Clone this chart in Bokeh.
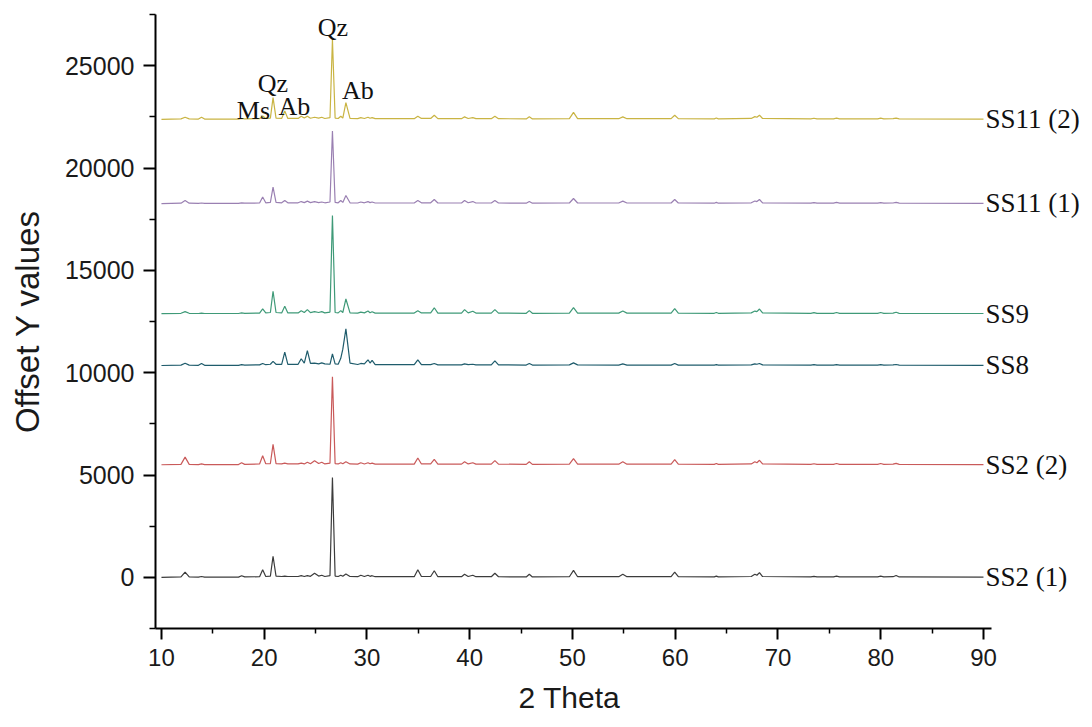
from bokeh.plotting import figure
from bokeh.models import FixedTicker, ColumnDataSource, Range1d, Title
from bokeh.embed import file_html
from bokeh.resources import INLINE
from bokeh.core.properties import value

# ---- data ----
two_theta = [
    10.0, 11.9, 12.3, 12.7,
    13.6, 13.9, 14.2,
    17.5, 17.8, 18.1,
    19.55, 19.85, 20.15, 20.6, 20.86, 21.15,
    21.7, 22.0, 22.3,
    23.3, 23.6, 23.9, 24.2, 24.5, 24.9, 25.3, 25.6, 25.9,
    26.4, 26.64, 26.9, 27.2, 27.45, 27.65, 27.95, 28.35,
    29.1, 29.4, 29.75, 30.1, 30.3, 30.5, 30.8,
    34.6, 34.95, 35.3, 36.2, 36.55, 36.9,
    39.2, 39.5, 39.85, 40.3, 40.6,
    42.1, 42.45, 42.8,
    45.5, 45.8, 46.1,
    49.7, 50.1, 50.5,
    54.5, 54.9, 55.3,
    59.6, 59.95, 60.3,
    63.8, 64.0, 64.2,
    67.4, 67.75, 67.95, 68.2, 68.5,
    73.2, 73.5, 73.8,
    75.4, 75.7, 76.0,
    79.7, 80.0, 80.3, 81.2, 81.5, 81.8, 90.0,
]

ss2_1 = [
    0, 20, 260, 20,
    10, 40, 10,
    10, 80, 20,
    30, 370, 40, 60, 1030, 60,
    40, 60, 40,
    40, 80, 40, 80, 50, 200, 60, 100, 40,
    80, 4880, 60, 40, 100, 50, 160, 40,
    30, 100, 40, 100, 50, 80, 30,
    30, 370, 40, 40, 320, 30,
    30, 150, 40, 100, 30,
    30, 200, 30,
    20, 150, 20,
    30, 340, 30,
    30, 150, 30,
    30, 250, 30,
    20, 60, 20,
    40, 150, 100, 230, 40,
    20, 50, 20,
    20, 60, 20,
    20, 60, 20, 30, 90, 20, 10,
]

ss2_2 = [
    0, 20, 375, 20,
    10, 40, 10,
    10, 100, 20,
    40, 440, 50, 60, 1000, 60,
    40, 80, 40,
    40, 80, 40, 120, 50, 200, 60, 120, 40,
    80, 4300, 60, 40, 100, 50, 150, 40,
    30, 100, 40, 100, 50, 80, 30,
    30, 330, 40, 40, 260, 30,
    30, 150, 40, 100, 30,
    30, 200, 30,
    20, 150, 20,
    30, 300, 30,
    30, 150, 30,
    30, 250, 30,
    20, 60, 20,
    40, 150, 100, 220, 40,
    20, 50, 20,
    20, 60, 20,
    20, 60, 20, 30, 70, 20, 10,
]

ss8 = [
    0, 20, 110, 20,
    10, 100, 10,
    10, 40, 20,
    30, 100, 40, 60, 200, 60,
    60, 650, 60,
    60, 330, 120, 730, 100, 120, 80, 130, 80,
    60, 570, 80, 60, 350, 800, 1790, 120,
    50, 100, 80, 280, 120, 250, 40,
    40, 280, 40, 40, 100, 30,
    30, 80, 40, 60, 30,
    30, 230, 30,
    20, 100, 20,
    30, 130, 30,
    20, 80, 20,
    20, 100, 20,
    20, 40, 20,
    30, 80, 60, 100, 30,
    20, 40, 20,
    20, 40, 20,
    20, 40, 20, 30, 50, 20, 10,
]

ss9 = [
    0, 20, 100, 20,
    10, 30, 10,
    10, 40, 20,
    30, 240, 40, 60, 1100, 60,
    40, 360, 40,
    40, 150, 60, 200, 50, 100, 60, 100, 40,
    80, 4800, 60, 40, 150, 60, 720, 40,
    30, 80, 40, 130, 50, 100, 30,
    30, 150, 40, 40, 290, 30,
    30, 200, 40, 120, 30,
    30, 200, 30,
    20, 150, 20,
    30, 300, 30,
    30, 130, 30,
    30, 250, 30,
    20, 60, 20,
    40, 130, 100, 230, 40,
    20, 50, 20,
    20, 60, 20,
    20, 60, 20, 30, 70, 20, 10,
]

ss11_1 = [
    0, 20, 150, 20,
    10, 30, 10,
    10, 40, 20,
    30, 320, 40, 60, 810, 60,
    40, 150, 40,
    40, 100, 50, 120, 50, 100, 50, 80, 40,
    80, 3545, 60, 40, 150, 60, 400, 40,
    30, 80, 40, 100, 50, 80, 30,
    30, 150, 40, 40, 200, 30,
    30, 150, 40, 100, 30,
    30, 150, 30,
    20, 100, 20,
    30, 250, 30,
    30, 120, 30,
    30, 200, 30,
    20, 60, 20,
    40, 130, 100, 200, 40,
    20, 50, 20,
    20, 60, 20,
    20, 50, 20, 30, 60, 20, 10,
]

ss11_2 = [
    0, 20, 100, 20,
    10, 100, 10,
    10, 40, 20,
    30, 160, 40, 60, 1060, 60,
    40, 400, 40,
    40, 150, 60, 150, 50, 100, 60, 100, 40,
    80, 3900, 60, 40, 150, 60, 810, 40,
    30, 80, 40, 100, 50, 80, 30,
    30, 150, 40, 40, 200, 30,
    30, 120, 40, 80, 30,
    30, 150, 30,
    20, 120, 20,
    30, 340, 30,
    30, 120, 30,
    30, 200, 30,
    20, 60, 20,
    40, 130, 100, 200, 40,
    20, 50, 20,
    20, 60, 20,
    20, 60, 20, 30, 60, 20, 10,
]

series_names = ["SS2 (1)", "SS2 (2)", "SS8", "SS9", "SS11 (1)", "SS11 (2)"]
series_values = [ss2_1, ss2_2, ss8, ss9, ss11_1, ss11_2]
offsets = [0, 5500, 10350, 12880, 18260, 22380]
colors = ["#3c3c3c", "#c95a5a", "#1f5c6c", "#3f9a78", "#9a80b2", "#c9b443"]

ann_text = ["Qz", "Qz", "Ms", "Ab", "Ab"]
ann_x = [26.69, 20.85, 18.95, 22.94, 29.12]
ann_y = [26850, 24135, 22800, 23000, 23800]

x_ticks = [10, 20, 30, 40, 50, 60, 70, 80, 90]
x_minor = [15, 25, 35, 45, 55, 65, 75, 85]
y_ticks = [0, 5000, 10000, 15000, 20000, 25000]
y_minor = [-2500, 2500, 7500, 12500, 17500, 22500, 27500]

for v in series_values:
    assert len(v) == len(two_theta), (len(v), len(two_theta))

X_AXIS_START, X_AXIS_END = 9.42, 90.78

# ---- figure ----
# the frame extends past the x axis end so the series names fit on the right
p = figure(width=1092, height=727, output_backend="svg", toolbar_location=None,
           x_range=Range1d(X_AXIS_START, 100.61), y_range=Range1d(-2500, 27500),
           min_border_left=155, min_border_right=0, min_border_top=14, min_border_bottom=98)
p.outline_line_color = None
p.xgrid.visible = False
p.ygrid.visible = False
p.background_fill_color = "white"
p.border_fill_color = "white"

end_x, end_y = [], []
for name, vals, off, col in zip(series_names, series_values, offsets, colors):
    ys = [v + off for v in vals]
    p.line(two_theta, ys, line_color=col, line_width=1.2)
    end_x.append(two_theta[-1])
    end_y.append(ys[-1])

lab_src = ColumnDataSource(dict(x=end_x, y=end_y, t=series_names))
p.text(x="x", y="y", text="t", source=lab_src, x_offset=2, text_align="left",
       text_baseline="middle", text_font=value("Liberation Serif"),
       text_font_size="27px", text_color="#111111")

src = ColumnDataSource(dict(x=ann_x, y=ann_y, t=ann_text))
p.text(x="x", y="y", text="t", source=src, text_align="center",
       text_baseline="alphabetic", text_font=value("Liberation Serif"),
       text_font_size="26px", text_color="#111111")

for ax in (p.xaxis[0], p.yaxis[0]):
    ax.axis_line_width = 2
    ax.axis_line_color = "black"
    ax.major_tick_line_width = 2
    ax.minor_tick_line_width = 1.5
    ax.major_tick_line_color = "black"
    ax.minor_tick_line_color = "black"
    ax.major_tick_in = 0
    ax.minor_tick_in = 0
    ax.major_label_text_font = "Liberation Sans"
    ax.axis_label_text_font = "Liberation Sans"
    ax.axis_label_text_font_style = "normal"
    ax.major_label_text_color = "#1a1a1a"
    ax.axis_label_text_color = "#1a1a1a"

p.xaxis.bounds = (X_AXIS_START, X_AXIS_END)
p.xaxis.ticker = FixedTicker(ticks=x_ticks, minor_ticks=x_minor)
p.yaxis.ticker = FixedTicker(ticks=y_ticks, minor_ticks=y_minor)

p.xaxis.major_tick_out = 11
p.xaxis.minor_tick_out = 5
p.xaxis.major_label_text_font_size = "24px"
p.xaxis.major_label_standoff = 9

p.yaxis.major_tick_out = 12
p.yaxis.minor_tick_out = 6
p.yaxis.major_label_text_font_size = "25px"
p.yaxis.major_label_standoff = 9
p.yaxis.axis_label = "Offset Y values"
p.yaxis.axis_label_text_font_size = "33px"
p.yaxis.axis_label_standoff = 16

# x-axis title, centred under the drawn axis (the frame is wider than the axis)
x_title = Title(text="2 Theta", align="left", offset=363, vertical_align="top",
                standoff=24, text_font="Liberation Sans", text_font_size="30px",
                text_font_style="normal", text_color="#1a1a1a")
p.add_layout(x_title, "below")

open("out.html", "w").write(file_html(p, INLINE))
